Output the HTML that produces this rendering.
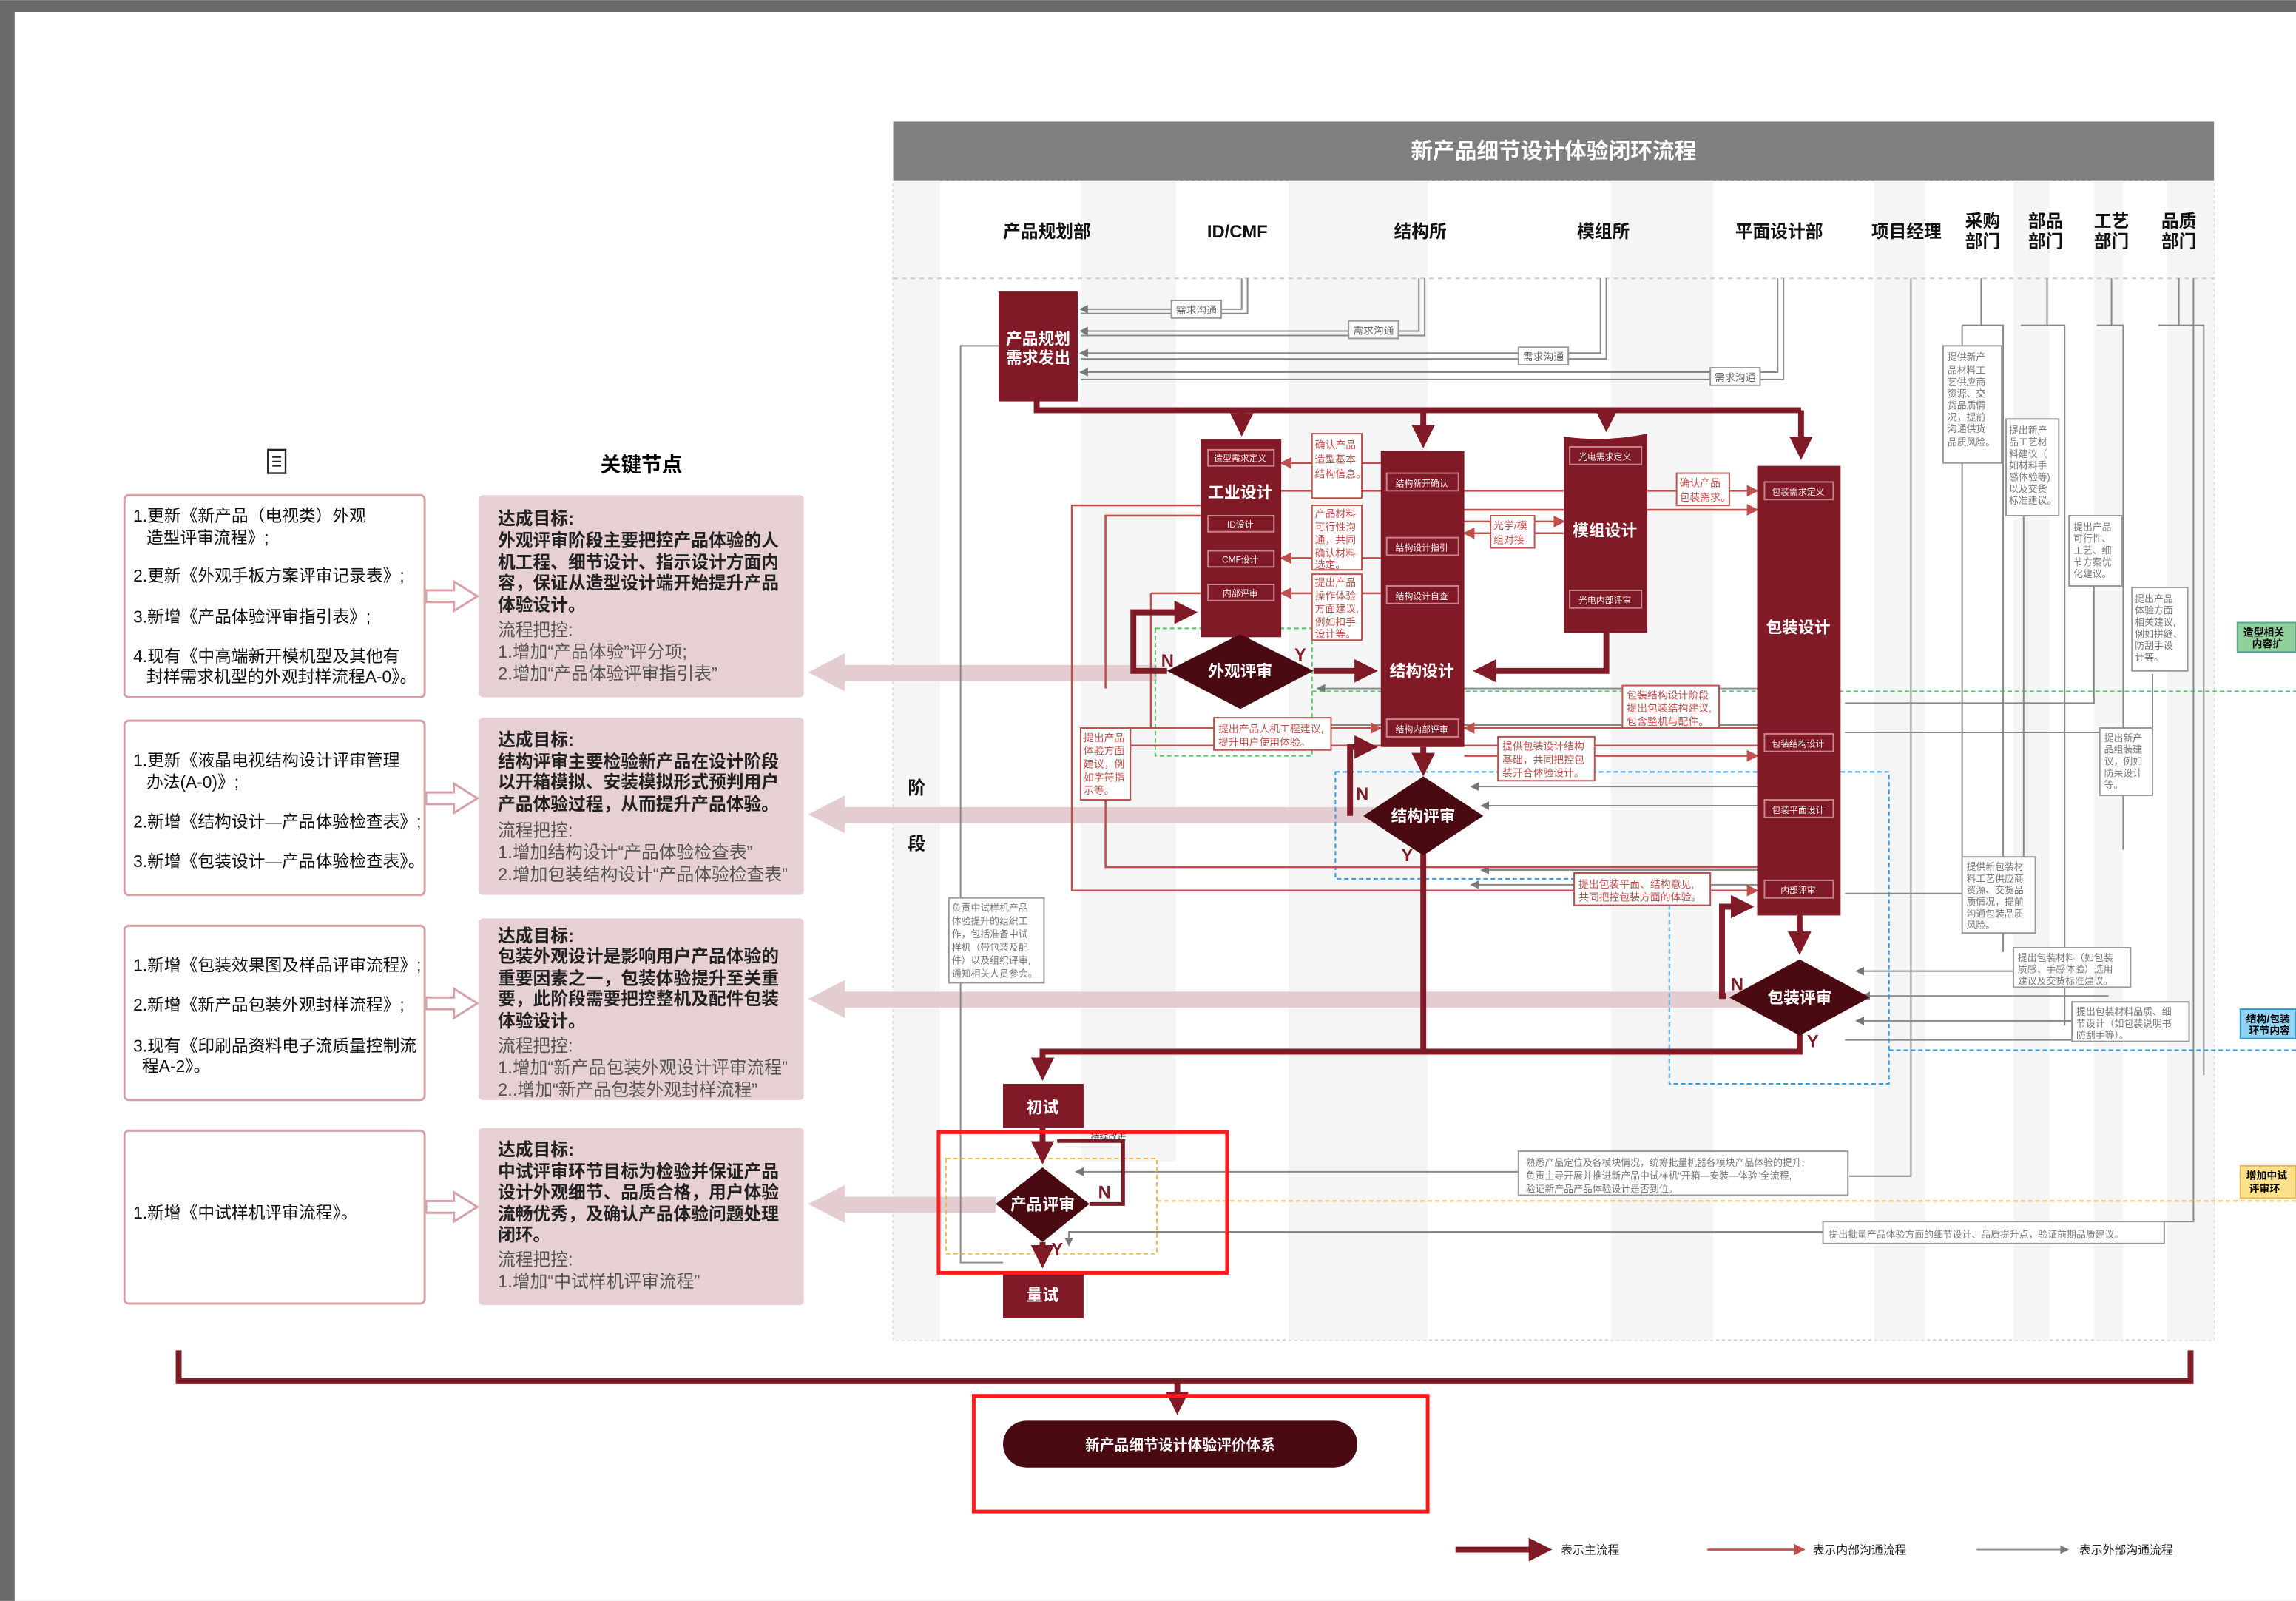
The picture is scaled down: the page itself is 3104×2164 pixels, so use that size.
<!DOCTYPE html>
<html><head><meta charset="utf-8">
<style>
html,body{margin:0;padding:0;background:#fff;}
svg{display:block;}
text{font-family:"Liberation Sans","Noto Sans CJK SC",sans-serif;}
</style></head>
<body>
<svg width="3104" height="2164" viewBox="0 0 1568 1093" xmlns="http://www.w3.org/2000/svg">
<defs>
<marker id="mMain" markerWidth="4" markerHeight="4" refX="3" refY="2" orient="auto" markerUnits="strokeWidth"><path d="M0,0 L4,2 L0,4 z" fill="#7f1a26"/></marker>
<marker id="mInt" markerWidth="8" markerHeight="8" refX="7" refY="4" orient="auto" markerUnits="userSpaceOnUse"><path d="M0,0 L8,4 L0,8 z" fill="#c0504d"/></marker>
<marker id="mExt" markerWidth="6" markerHeight="6" refX="5" refY="3" orient="auto" markerUnits="userSpaceOnUse"><path d="M0,0 L6,3 L0,6 z" fill="#777"/></marker>
</defs>
<!-- page frame -->
<rect x="0" y="0" width="1568" height="1093" fill="#6a6a6a"/>
<rect x="10" y="8" width="1558" height="1085" fill="#fff"/>

<!-- LEFT SECTION -->
<g>
<rect x="183" y="307" width="12" height="16" fill="#fff" stroke="#222" stroke-width="1.2"/>
<line x1="186" y1="312" x2="192" y2="312" stroke="#222"/><line x1="186" y1="315" x2="192" y2="315" stroke="#222"/><line x1="186" y1="318" x2="192" y2="318" stroke="#222"/>
</g>
<text x="438" y="322" font-size="14" font-weight="bold" text-anchor="middle">关键节点</text>

<g font-size="11.5" fill="#111">
<rect x="85" y="338" width="205" height="138" rx="3" fill="#fff" stroke="#d7a0a6" stroke-width="1.5"/>
<text x="91" y="356">1.更新《新产品（电视类）外观</text><text x="100" y="371">造型评审流程》;</text>
<text x="91" y="397">2.更新《外观手板方案评审记录表》;</text>
<text x="91" y="425">3.新增《产品体验评审指引表》;</text>
<text x="91" y="452">4.现有《中高端新开模机型及其他有</text><text x="100" y="466">封样需求机型的外观封样流程A-0》。</text>

<rect x="85" y="492" width="205" height="119" rx="3" fill="#fff" stroke="#d7a0a6" stroke-width="1.5"/>
<text x="91" y="523">1.更新《液晶电视结构设计评审管理</text><text x="100" y="538">办法(A-0)》;</text>
<text x="91" y="565">2.新增《结构设计—产品体验检查表》;</text>
<text x="91" y="592">3.新增《包装设计—产品体验检查表》。</text>

<rect x="85" y="632" width="205" height="119" rx="3" fill="#fff" stroke="#d7a0a6" stroke-width="1.5"/>
<text x="91" y="663">1.新增《包装效果图及样品评审流程》;</text>
<text x="91" y="690">2.新增《新产品包装外观封样流程》;</text>
<text x="91" y="718">3.现有《印刷品资料电子流质量控制流</text><text x="97" y="732">程A-2》。</text>

<rect x="85" y="772" width="205" height="118" rx="3" fill="#fff" stroke="#d7a0a6" stroke-width="1.5"/>
<text x="91" y="832">1.新增《中试样机评审流程》。</text>
</g>

<g fill="#fff" stroke="#d7a0a6" stroke-width="1.5">
<path d="M291,403 L310,403 L310,397 L326,407 L310,417 L310,411 L291,411 z"/>
<path d="M291,541 L310,541 L310,535 L326,545 L310,555 L310,549 L291,549 z"/>
<path d="M291,681 L310,681 L310,675 L326,685 L310,695 L310,689 L291,689 z"/>
<path d="M291,820 L310,820 L310,814 L326,824 L310,834 L310,828 L291,828 z"/>
</g>

<g font-size="12" fill="#222">
<rect x="327" y="338" width="222" height="138" rx="3" fill="#e7d0d3"/>
<g font-weight="bold"><text x="340" y="358">达成目标:</text><text x="340" y="373">外观评审阶段主要把控产品体验的人</text><text x="340" y="388">机工程、细节设计、指示设计方面内</text><text x="340" y="402">容，保证从造型设计端开始提升产品</text><text x="340" y="417">体验设计。</text></g>
<g fill="#555"><text x="340" y="434">流程把控:</text><text x="340" y="449">1.增加“产品体验”评分项;</text><text x="340" y="464">2.增加“产品体验评审指引表”</text></g>

<rect x="327" y="490" width="222" height="121" rx="3" fill="#e7d0d3"/>
<g font-weight="bold"><text x="340" y="509">达成目标:</text><text x="340" y="524">结构评审主要检验新产品在设计阶段</text><text x="340" y="538">以开箱模拟、安装模拟形式预判用户</text><text x="340" y="553">产品体验过程，从而提升产品体验。</text></g>
<g fill="#555"><text x="340" y="571">流程把控:</text><text x="340" y="586">1.增加结构设计“产品体验检查表”</text><text x="340" y="601">2.增加包装结构设计“产品体验检查表”</text></g>

<rect x="327" y="627" width="222" height="124" rx="3" fill="#e7d0d3"/>
<g font-weight="bold"><text x="340" y="643">达成目标:</text><text x="340" y="657">包装外观设计是影响用户产品体验的</text><text x="340" y="672">重要因素之一，包装体验提升至关重</text><text x="340" y="686">要，此阶段需要把控整机及配件包装</text><text x="340" y="701">体验设计。</text></g>
<g fill="#555"><text x="340" y="718">流程把控:</text><text x="340" y="733">1.增加“新产品包装外观设计评审流程”</text><text x="340" y="748">2..增加“新产品包装外观封样流程”</text></g>

<rect x="327" y="770" width="222" height="121" rx="3" fill="#e7d0d3"/>
<g font-weight="bold"><text x="340" y="789">达成目标:</text><text x="340" y="804">中试评审环节目标为检验并保证产品</text><text x="340" y="818">设计外观细节、品质合格，用户体验</text><text x="340" y="833">流畅优秀，及确认产品体验问题处理</text><text x="340" y="847">闭环。</text></g>
<g fill="#555"><text x="340" y="864">流程把控:</text><text x="340" y="879">1.增加“中试样机评审流程”</text></g>
</g>

<!-- MAIN DIAGRAM -->
<g>
<rect x="610" y="123" width="902" height="792" fill="#fff" stroke="#ccc" stroke-dasharray="2,2"/>
<rect x="610" y="123" width="32" height="792" fill="#f5f5f5"/>
<rect x="738" y="123" width="65" height="670" fill="#f5f5f5"/>
<rect x="880" y="123" width="95" height="792" fill="#f5f5f5"/>
<rect x="1100" y="123" width="70" height="792" fill="#f5f5f5"/>
<rect x="1280" y="123" width="35" height="792" fill="#f5f5f5"/>
<rect x="1375" y="123" width="25" height="792" fill="#f5f5f5"/>
<rect x="1430" y="123" width="20" height="792" fill="#f5f5f5"/>
<rect x="1480" y="123" width="32" height="792" fill="#f5f5f5"/>
<line x1="610" y1="190" x2="1512" y2="190" stroke="#ccc" stroke-dasharray="3,3"/>
</g>
<rect x="610" y="83" width="902" height="40" fill="#7f7f7f"/>
<text x="1061" y="108" font-size="15" font-weight="bold" fill="#fff" text-anchor="middle">新产品细节设计体验闭环流程</text>

<g font-size="12" font-weight="bold" fill="#111" text-anchor="middle">
<text x="715" y="162">产品规划部</text><text x="845" y="162">ID/CMF</text><text x="970" y="162">结构所</text>
<text x="1095" y="162">模组所</text><text x="1215" y="162">平面设计部</text><text x="1302" y="162">项目经理</text>
<text x="1354" y="155">采购</text><text x="1354" y="169">部门</text><text x="1397" y="155">部品</text><text x="1397" y="169">部门</text>
<text x="1442" y="155">工艺</text><text x="1442" y="169">部门</text><text x="1488" y="155">品质</text><text x="1488" y="169">部门</text>
<text x="626" y="542">阶</text><text x="626" y="580">段</text>
</g>

<!-- big pink left arrows -->
<g fill="#e4cdd0">
<path d="M552,459 L577,446 L577,454 L790,454 L790,465 L577,465 L577,472 z"/>
<path d="M552,556 L577,543 L577,551 L950,551 L950,562 L577,562 L577,569 z"/>
<path d="M552,682 L577,669 L577,677 L1210,677 L1210,688 L577,688 L577,695 z"/>
<path d="M552,822 L577,809 L577,817 L680,817 L680,828 L577,828 L577,835 z"/>
</g>

<!-- external (gray) lines -->
<g stroke="#888" stroke-width="1" fill="none">
<path d="M848,190 L848,211 L738,211" marker-end="url(#mExt)"/><path d="M852,190 L852,214 L738,214"/>
<path d="M969,190 L969,226 L738,226" marker-end="url(#mExt)"/><path d="M973,190 L973,229 L738,229"/>
<path d="M1093,190 L1093,241 L738,241" marker-end="url(#mExt)"/><path d="M1097,190 L1097,245 L738,245"/>
<path d="M1214,190 L1214,254 L738,254" marker-end="url(#mExt)"/><path d="M1218,190 L1218,259 L738,259"/>
<path d="M682,236 L656,236 L656,862 L685,862" />
<path d="M1305,190 L1305,803 L1263,803"/>
<path d="M1498,190 L1498,834 L1478,834"/><path d="M1478,841 L730,841 L730,850" marker-end="url(#mExt)"/>
<path d="M1040,800 L735,800" marker-end="url(#mExt)"/>
<line x1="1353" y1="190" x2="1353" y2="222"/><line x1="1398" y1="190" x2="1398" y2="222"/><line x1="1442" y1="190" x2="1442" y2="222"/><line x1="1488" y1="190" x2="1488" y2="222"/>
<path d="M1340,222 L1368,222 L1368,650"/><path d="M1380,222 L1410,222 L1410,700"/>
<path d="M1432,222 L1450,222 L1450,580"/><path d="M1474,222 L1505,222 L1505,734"/>
<path d="M1340,222 L1340,236"/>
<path d="M1340,316 L1340,610 L1260,610"/>
<path d="M1382,352 L1382,620"/>
<path d="M1430,400 L1430,480 L1260,480"/>
<path d="M1470,460 L1470,500 L1260,500"/>
<path d="M1260,710 L1490,710"/>
<path d="M1200,470 L900,470" marker-end="url(#mExt)"/>
<path d="M1200,495 L900,495" marker-end="url(#mExt)"/>
<path d="M1200,537 L1005,537" marker-end="url(#mExt)"/>
<path d="M1200,550 L1012,550" marker-end="url(#mExt)"/>
<path d="M1200,594 L1012,594" marker-end="url(#mExt)"/>
<path d="M1200,604 L1005,604" marker-end="url(#mExt)"/>
<path d="M1420,663 L1268,663" marker-end="url(#mExt)"/>
<path d="M1440,680 L1272,680" marker-end="url(#mExt)"/>
<path d="M1460,697 L1268,697" marker-end="url(#mExt)"/>
</g>

<!-- comm labels -->
<g font-size="7" fill="#666">
<rect x="800" y="205" width="34" height="12" fill="#fff" stroke="#999"/><text x="803" y="214">需求沟通</text>
<rect x="921" y="219" width="34" height="12" fill="#fff" stroke="#999"/><text x="924" y="228">需求沟通</text>
<rect x="1037" y="237" width="34" height="12" fill="#fff" stroke="#999"/><text x="1040" y="246">需求沟通</text>
<rect x="1168" y="251" width="34" height="12" fill="#fff" stroke="#999"/><text x="1171" y="260">需求沟通</text>
</g>

<!-- dashed regions -->
<rect x="789" y="429" width="107" height="87" fill="none" stroke="#55c06a" stroke-dasharray="3,2"/>
<line x1="896" y1="472" x2="1568" y2="472" stroke="#55c06a" stroke-dasharray="3,2"/>
<path d="M912,527 L1290,527 L1290,740 L1140,740 L1140,600 L912,600 z" fill="none" stroke="#2f9be6" stroke-dasharray="3,2"/>
<line x1="1290" y1="717" x2="1568" y2="717" stroke="#2f9be6" stroke-dasharray="3,2"/>
<rect x="646" y="791" width="144" height="65" fill="none" stroke="#e9b84c" stroke-dasharray="3,2"/>
<line x1="790" y1="820" x2="1568" y2="820" stroke="#e9b84c" stroke-dasharray="3,2"/>

<!-- internal (red) lines -->
<g stroke="#c0504d" stroke-width="1.3" fill="none">
<path d="M943,316 L875,316" marker-end="url(#mInt)"/>
<path d="M943,381 L875,381" marker-end="url(#mInt)"/>
<path d="M943,405 L875,405" marker-end="url(#mInt)"/>
<path d="M875,335 L1068,335"/><path d="M1000,348 L1068,348"/>
<path d="M1125,335 L1200,335" marker-end="url(#mInt)"/><path d="M1125,348 L1200,348" marker-end="url(#mInt)"/>
<path d="M1000,356 L1068,356" marker-end="url(#mInt)"/><path d="M1068,364 L1000,364" marker-end="url(#mInt)"/>
<path d="M820,345 L732,345 L732,608 L1200,608" marker-end="url(#mInt)"/>
<path d="M820,352 L755,352 L755,470"/><path d="M755,497 L755,592 L1200,592"/>
<path d="M820,405 L786,405"/><path d="M786,405 L786,497"/>
<path d="M1200,509 L770,509 L770,497"/>
<path d="M770,497 L943,497" marker-end="url(#mInt)"/>
<path d="M1200,497 L1000,497" marker-end="url(#mInt)"/>
<path d="M1000,516 L1200,516" marker-end="url(#mInt)"/>
</g>

<!-- main flow thick lines -->
<g stroke="#7f1a26" stroke-width="4" fill="none">
<path d="M708,274 L708,280 L1230,280"/>
<path d="M848,280 L848,294" marker-end="url(#mMain)"/>
<path d="M972,280 L972,302" marker-end="url(#mMain)"/>
<path d="M1097,280 L1097,291" marker-end="url(#mMain)"/>
<path d="M1230,280 L1230,310" marker-end="url(#mMain)"/>
<path d="M847,435 L847,426" />
<path d="M847,436 L847,428" marker-end="url(#mMain)"/>
<path d="M897,458 L937,458" marker-end="url(#mMain)"/>
<path d="M1097,432 L1097,458 L1010,458" marker-end="url(#mMain)"/>
<path d="M797,458 L774,458 L774,418 L814,418" marker-end="url(#mMain)"/>
<path d="M972,510 L972,526" marker-end="url(#mMain)"/>
<path d="M922,557 L922,510 L937,510" marker-end="url(#mMain)"/>
<path d="M972,583 L972,718"/>
<path d="M1229,625 L1229,648" marker-end="url(#mMain)"/>
<path d="M1179,680 L1176,680 L1176,619 L1194,619" marker-end="url(#mMain)"/>
<path d="M1229,706 L1229,718 L712,718 L712,734" marker-end="url(#mMain)"/>
<path d="M712,770 L712,791" marker-end="url(#mMain)"/>
<path d="M744,822 L767,822 L767,779 L722,779" stroke-width="2.5"/>
<path d="M712,848 L712,862" marker-end="url(#mMain)"/>
<path d="M122,922 L122,943 L1496,943 L1496,922"/>
<path d="M804,943 L804,962" marker-end="url(#mMain)"/>
</g>

<!-- boxes -->
<rect x="682" y="199" width="54" height="75" fill="#7f1a26"/>
<text x="709" y="235" font-size="11" font-weight="bold" fill="#fff" text-anchor="middle">产品规划</text>
<text x="709" y="248" font-size="11" font-weight="bold" fill="#fff" text-anchor="middle">需求发出</text>

<g font-size="6" fill="#eee" text-anchor="middle">
<rect x="820" y="300" width="55" height="135" fill="#7f1a26"/>
<rect x="825" y="307" width="45" height="11" fill="none" stroke="#c9848a"/><text x="847" y="315">造型需求定义</text>
<text x="847" y="340" font-size="11" font-weight="bold" fill="#fff">工业设计</text>
<rect x="825" y="352" width="45" height="11" fill="none" stroke="#c9848a"/><text x="847" y="360">ID设计</text>
<rect x="825" y="376" width="45" height="11" fill="none" stroke="#c9848a"/><text x="847" y="384">CMF设计</text>
<rect x="825" y="399" width="45" height="11" fill="none" stroke="#c9848a"/><text x="847" y="407">内部评审</text>

<rect x="943" y="308" width="57" height="202" fill="#7f1a26"/>
<rect x="947" y="323" width="49" height="12" fill="none" stroke="#c9848a"/><text x="971" y="332">结构新开确认</text>
<rect x="947" y="367" width="49" height="12" fill="none" stroke="#c9848a"/><text x="971" y="376">结构设计指引</text>
<rect x="947" y="400" width="49" height="12" fill="none" stroke="#c9848a"/><text x="971" y="409">结构设计自查</text>
<text x="971" y="462" font-size="11" font-weight="bold" fill="#fff">结构设计</text>
<rect x="947" y="491" width="49" height="12" fill="none" stroke="#c9848a"/><text x="971" y="500">结构内部评审</text>

<path d="M1068,298 Q1097,302 1125,296 L1125,432 L1068,432 z" fill="#7f1a26"/>
<rect x="1072" y="305" width="49" height="12" fill="none" stroke="#c9848a"/><text x="1096" y="314">光电需求定义</text>
<text x="1096" y="366" font-size="11" font-weight="bold" fill="#fff">模组设计</text>
<rect x="1072" y="403" width="49" height="12" fill="none" stroke="#c9848a"/><text x="1096" y="412">光电内部评审</text>

<rect x="1200" y="318" width="57" height="307" fill="#7f1a26"/>
<rect x="1205" y="329" width="47" height="12" fill="none" stroke="#c9848a"/><text x="1228" y="338">包装需求定义</text>
<text x="1228" y="432" font-size="11" font-weight="bold" fill="#fff">包装设计</text>
<rect x="1205" y="501" width="47" height="12" fill="none" stroke="#c9848a"/><text x="1228" y="510">包装结构设计</text>
<rect x="1205" y="546" width="47" height="12" fill="none" stroke="#c9848a"/><text x="1228" y="555">包装平面设计</text>
<rect x="1205" y="601" width="47" height="12" fill="none" stroke="#c9848a"/><text x="1228" y="610">内部评审</text>
</g>

<!-- diamonds -->
<g font-size="11" font-weight="bold" fill="#fff" text-anchor="middle">
<path d="M847,433 L897,458 L847,484 L797,458 z" fill="#4a0a12"/><text x="847" y="462">外观评审</text>
<path d="M972,530 L1013,557 L972,584 L931,557 z" fill="#4a0a12"/><text x="972" y="561">结构评审</text>
<path d="M1229,655 L1277,681 L1229,707 L1181,681 z" fill="#4a0a12"/><text x="1229" y="685">包装评审</text>
<path d="M712,797 L744,822 L712,848 L680,822 z" fill="#4a0a12"/><text x="712" y="826">产品评审</text>
<rect x="685" y="740" width="55" height="30" fill="#7f1a26"/><text x="712" y="760">初试</text>
<rect x="685" y="868" width="55" height="32" fill="#7f1a26"/><text x="712" y="888">量试</text>
</g>
<g font-size="12" font-weight="bold" fill="#7f1a26">
<text x="793" y="455">N</text><text x="884" y="451">Y</text>
<text x="926" y="546">N</text><text x="957" y="588">Y</text>
<text x="1182" y="676">N</text><text x="1234" y="715">Y</text>
<text x="750" y="818">N</text><text x="718" y="857">Y</text>
</g>
<text x="745" y="778" font-size="6" fill="#333">持续改进</text>

<!-- internal notes (red) -->
<g font-size="7" fill="#c0504d">
<rect x="896" y="296" width="34" height="44" fill="#fff" stroke="#c0504d"/><text x="898" y="306">确认产品</text><text x="898" y="316">造型基本</text><text x="898" y="326">结构信息。</text>
<rect x="896" y="345" width="34" height="44" fill="#fff" stroke="#c0504d"/><text x="898" y="353">产品材料</text><text x="898" y="362">可行性沟</text><text x="898" y="371">通，共同</text><text x="898" y="380">确认材料</text><text x="898" y="388">选定。</text>
<rect x="896" y="392" width="34" height="45" fill="#fff" stroke="#c0504d"/><text x="898" y="400">提出产品</text><text x="898" y="409">操作体验</text><text x="898" y="418">方面建议,</text><text x="898" y="427">例如扣手</text><text x="898" y="435">设计等。</text>
<rect x="1018" y="352" width="30" height="22" fill="#fff" stroke="#c0504d"/><text x="1020" y="361">光学/模</text><text x="1020" y="371">组对接</text>
<rect x="1145" y="323" width="36" height="22" fill="#fff" stroke="#c0504d"/><text x="1147" y="332">确认产品</text><text x="1147" y="342">包装需求。</text>
<rect x="829" y="490" width="80" height="22" fill="#fff" stroke="#c0504d"/><text x="832" y="500">提出产品人机工程建议,</text><text x="832" y="509">提升用户使用体验。</text>
<rect x="738" y="497" width="34" height="49" fill="#fff" stroke="#c0504d"/><text x="740" y="506">提出产品</text><text x="740" y="515">体验方面</text><text x="740" y="524">建议，例</text><text x="740" y="533">如字符指</text><text x="740" y="542">示等。</text>
<rect x="1108" y="468" width="66" height="29" fill="#fff" stroke="#c0504d"/><text x="1111" y="477">包装结构设计阶段</text><text x="1111" y="486">提出包装结构建议,</text><text x="1111" y="495">包含整机与配件。</text>
<rect x="1023" y="503" width="66" height="30" fill="#fff" stroke="#c0504d"/><text x="1026" y="512">提供包装设计结构</text><text x="1026" y="521">基础，共同把控包</text><text x="1026" y="530">装开合体验设计。</text>
<rect x="1075" y="596" width="93" height="22" fill="#fff" stroke="#c0504d"/><text x="1078" y="606">提出包装平面、结构意见,</text><text x="1078" y="615">共同把控包装方面的体验。</text>
</g>

<!-- external notes (gray) -->
<g font-size="6.5" fill="#777">
<rect x="1327" y="236" width="40" height="80" fill="#fff" stroke="#999"/>
<text x="1330" y="246">提供新产</text><text x="1330" y="255">品材料工</text><text x="1330" y="263">艺供应商</text><text x="1330" y="271">资源、交</text><text x="1330" y="279">货品质情</text><text x="1330" y="287">况，提前</text><text x="1330" y="295">沟通供货</text><text x="1330" y="304">品质风险。</text>
<rect x="1370" y="286" width="36" height="66" fill="#fff" stroke="#999"/>
<text x="1372" y="296">提出新产</text><text x="1372" y="304">品工艺材</text><text x="1372" y="312">料建议（</text><text x="1372" y="320">如材料手</text><text x="1372" y="328">感体验等)</text><text x="1372" y="336">以及交货</text><text x="1372" y="344">标准建议。</text>
<rect x="1413" y="352" width="36" height="48" fill="#fff" stroke="#999"/>
<text x="1416" y="362">提出产品</text><text x="1416" y="370">可行性、</text><text x="1416" y="378">工艺、细</text><text x="1416" y="386">节方案优</text><text x="1416" y="394">化建议。</text>
<rect x="1456" y="401" width="38" height="57" fill="#fff" stroke="#999"/>
<text x="1458" y="411">提出产品</text><text x="1458" y="419">体验方面</text><text x="1458" y="427">相关建议,</text><text x="1458" y="435">例如拼缝、</text><text x="1458" y="443">防刮手设</text><text x="1458" y="451">计等。</text>
<rect x="1434" y="497" width="36" height="46" fill="#fff" stroke="#999"/>
<text x="1437" y="506">提出新产</text><text x="1437" y="514">品组装建</text><text x="1437" y="522">议，例如</text><text x="1437" y="530">防呆设计</text><text x="1437" y="538">等。</text>
<rect x="1340" y="585" width="50" height="52" fill="#fff" stroke="#999"/>
<text x="1343" y="594">提供新包装材</text><text x="1343" y="602">料工艺供应商</text><text x="1343" y="610">资源、交货品</text><text x="1343" y="618">质情况，提前</text><text x="1343" y="626">沟通包装品质</text><text x="1343" y="634">风险。</text>
<rect x="1375" y="647" width="80" height="27" fill="#fff" stroke="#999"/>
<text x="1378" y="656">提出包装材料（如包装</text><text x="1378" y="664">质感、手感体验）选用</text><text x="1378" y="672">建议及交货标准建议。</text>
<rect x="1415" y="684" width="80" height="27" fill="#fff" stroke="#999"/>
<text x="1418" y="693">提出包装材料品质、细</text><text x="1418" y="701">节设计（如包装说明书</text><text x="1418" y="709">防刮手等）。</text>
<rect x="648" y="613" width="65" height="58" fill="#fff" stroke="#999"/>
<text x="650" y="622">负责中试样机产品</text><text x="650" y="631">体验提升的组织工</text><text x="650" y="640">作，包括准备中试</text><text x="650" y="649">样机（带包装及配</text><text x="650" y="658">件）以及组织评审,</text><text x="650" y="667">通知相关人员参会。</text>
<rect x="1037" y="786" width="225" height="30" fill="#fff" stroke="#999"/>
<text x="1042" y="796">熟悉产品定位及各模块情况，统筹批量机器各模块产品体验的提升;</text><text x="1042" y="805">负责主导开展并推进新产品中试样机“开箱—安装—体验”全流程,</text><text x="1042" y="814">验证新产品产品体验设计是否到位。</text>
<rect x="1245" y="834" width="233" height="15" fill="#fff" stroke="#999"/>
<text x="1249" y="845">提出批量产品体验方面的细节设计、品质提升点，验证前期品质建议。</text>
</g>

<!-- right edge tags -->
<rect x="1528" y="425" width="40" height="20" fill="#8fd19a" stroke="#5a9"/>
<text x="1532" y="434" font-size="7" font-weight="bold">造型相关</text><text x="1538" y="442" font-size="7" font-weight="bold">内容扩</text>
<rect x="1530" y="689" width="38" height="20" fill="#8fd3f2" stroke="#39c"/>
<text x="1534" y="698" font-size="7" font-weight="bold">结构/包装</text><text x="1536" y="706" font-size="7" font-weight="bold">环节内容</text>
<rect x="1530" y="796" width="38" height="22" fill="#fde08a" stroke="#e9b84c"/>
<text x="1534" y="805" font-size="7" font-weight="bold">增加中试</text><text x="1536" y="814" font-size="7" font-weight="bold">评审环</text>

<!-- highlight rectangles -->
<rect x="641" y="773" width="197" height="96" fill="none" stroke="#ff1a1a" stroke-width="2.5"/>
<rect x="665" y="953" width="310" height="79" fill="none" stroke="#ff1a1a" stroke-width="2.5"/>
<rect x="685" y="970" width="242" height="32" rx="16" fill="#4a0a12"/>
<text x="806" y="990" font-size="10" font-weight="bold" fill="#fff" text-anchor="middle">新产品细节设计体验评价体系</text>

<!-- legend -->
<g font-size="8" fill="#222">
<line x1="994" y1="1058" x2="1056" y2="1058" stroke="#7f1a26" stroke-width="4" marker-end="url(#mMain)"/><text x="1066" y="1061">表示主流程</text>
<line x1="1166" y1="1058" x2="1232" y2="1058" stroke="#c0504d" stroke-width="1.3" marker-end="url(#mInt)"/><text x="1238" y="1061">表示内部沟通流程</text>
<line x1="1350" y1="1058" x2="1412" y2="1058" stroke="#888" marker-end="url(#mExt)"/><text x="1420" y="1061">表示外部沟通流程</text>
</g>
</svg>
</body></html>
